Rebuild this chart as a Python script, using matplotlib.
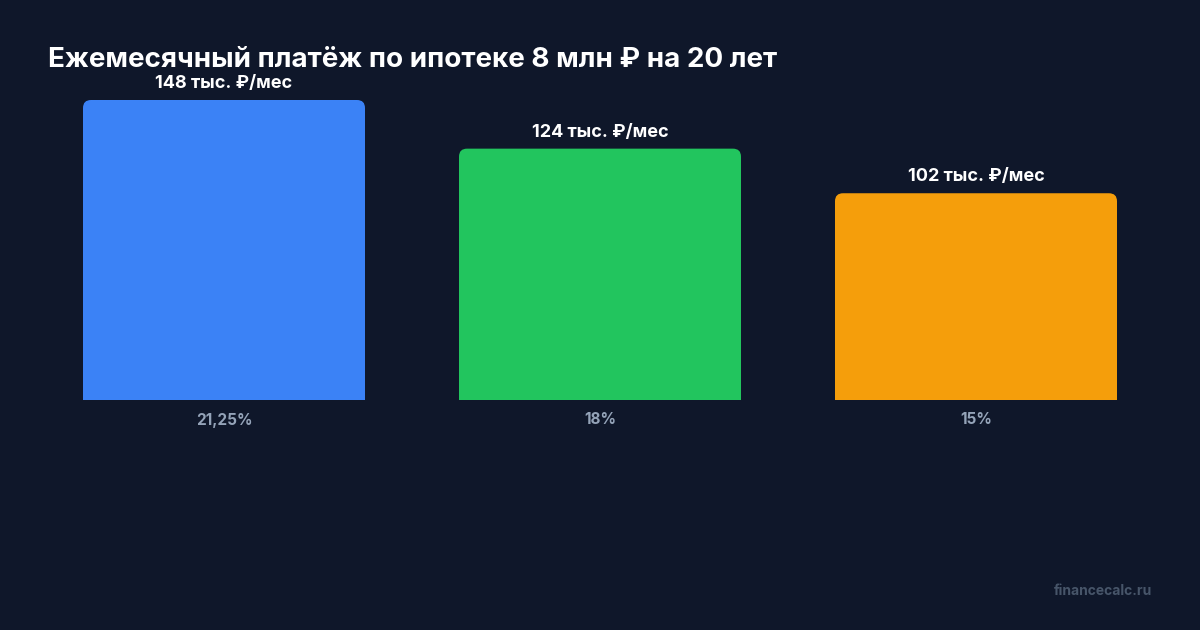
import matplotlib.pyplot as plt
from matplotlib.patches import FancyBboxPatch

# data
rates = ["21,25%", "18%", "15%"]
payments = [148, 124, 102]
colors = ["#3b82f6", "#22c55e", "#f59e0b"]

bg = "#0f172a"
fonts = ["Inter", "DejaVu Sans"]
plt.rcParams['font.family'] = fonts

fig = plt.figure(figsize=(12, 6.3), dpi=100, facecolor=bg)
# axes: x from 36px to 1164px, y from 400px (bottom) up to 60px
ax = fig.add_axes([36 / 1200, 230 / 630, 1128 / 1200, 340 / 630])
ax.set_facecolor(bg)
ax.set_xlim(-0.5, 2.5)
ax.set_ylim(0, 148 * 340 / 300)

x = list(range(len(rates)))
width = 0.75
bars = ax.bar(x, payments, width=width, color=colors)

# rounded top corners
x_per_px = 3 / 1128
y_per_px = (148 * 340 / 300) / 340
radius = 8 * x_per_px
for b, c in zip(bars, colors):
    b.set_visible(False)
    x0, w, h = b.get_x(), b.get_width(), b.get_height()
    ax.add_patch(FancyBboxPatch((x0, 0), w, h,
                                boxstyle=f"round,pad=0,rounding_size={radius}",
                                mutation_aspect=y_per_px / x_per_px,
                                facecolor=c, edgecolor="none"))
    ax.add_patch(plt.Rectangle((x0, 0), w, h / 2, facecolor=c, edgecolor="none"))
    ax.annotate(f"{h} тыс. ₽/мес", (x0 + w / 2, h), xytext=(0, 8.5),
                textcoords="offset points", ha="center", va="baseline",
                color="white", fontsize=13, fontweight="bold")

ax.set_xticks(x, rates)
ax.tick_params(axis="x", length=0, pad=9, labelsize=11, labelcolor="#94a3b8")
for t in ax.get_xticklabels():
    t.set_fontweight("bold")
ax.set_yticks([])
for s in ax.spines.values():
    s.set_visible(False)

fig.text(48 / 1200, 1 - 67 / 630, "Ежемесячный платёж по ипотеке 8 млн ₽ на 20 лет",
         color="white", fontsize=20, fontweight="bold", ha="left", va="baseline")
fig.text(1152 / 1200, 1 - 595 / 630, "financecalc.ru", color="#475569",
         fontsize=10, fontweight="bold", ha="right", va="baseline")

fig.savefig("out.png", dpi=100, facecolor=bg)
